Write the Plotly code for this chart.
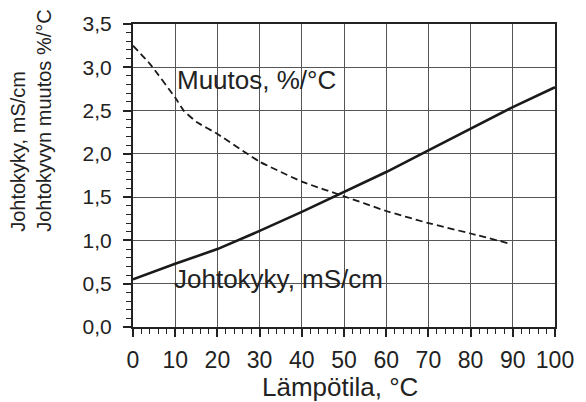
import plotly.graph_objects as go

# Data
temps = [0, 10, 20, 30, 40, 50, 60, 70, 80, 90, 100]
conductivity = [0.55, 0.73, 0.90, 1.11, 1.33, 1.56, 1.79, 2.04, 2.29, 2.54, 2.77]

change_temps = [0, 4, 10, 12, 15, 20, 30, 40, 50, 60, 70, 80, 89.5]
change = [3.25, 3.04, 2.65, 2.50, 2.37, 2.23, 1.91, 1.68, 1.51, 1.34, 1.20, 1.08, 0.96]

x_ticks = [0, 10, 20, 30, 40, 50, 60, 70, 80, 90, 100]
y_ticks = [0.0, 0.5, 1.0, 1.5, 2.0, 2.5, 3.0, 3.5]
y_tick_labels = ["0,0", "0,5", "1,0", "1,5", "2,0", "2,5", "3,0", "3,5"]

FONT = "Liberation Sans, Arial, Helvetica, sans-serif"
TXT = "#222222"

fig = go.Figure()
fig.add_trace(go.Scatter(x=temps, y=conductivity, mode="lines",
                         line=dict(color="#1a1a1a", width=2.6), showlegend=False))
fig.add_trace(go.Scatter(x=change_temps, y=change, mode="lines",
                         line=dict(color="#1a1a1a", width=1.8, dash="7px,4px", shape="spline", smoothing=0.4),
                         showlegend=False))

fig.add_annotation(x=9.9, y=2.85, xref="x", yref="y", text="Muutos, %/°C", showarrow=False,
                   xanchor="left", yanchor="middle", font=dict(family=FONT, size=26, color=TXT))
fig.add_annotation(x=9.2, y=0.56, xref="x", yref="y", text="Johtokyky, mS/cm", showarrow=False,
                   xanchor="left", yanchor="middle", font=dict(family=FONT, size=26, color=TXT))

# axis titles
fig.add_annotation(x=0.5 - 4 / 424, y=-0.197, xref="paper", yref="paper", text="Lämpötila, °C",
                   showarrow=False, xanchor="center", yanchor="middle",
                   font=dict(family=FONT, size=26, color=TXT))
fig.add_annotation(x=(31 - 133) / 424, y=(327 - 120) / 303.5, xref="paper", yref="paper",
                   text="Johtokyky, mS/cm<br>Johtokyvyn muutos %/°C", textangle=-90, align="left",
                   showarrow=False, xanchor="center", yanchor="middle",
                   font=dict(family=FONT, size=20, color=TXT))

fig.update_xaxes(range=[0, 100], tickvals=x_ticks, ticks="outside", ticklen=8, tickwidth=1.5,
                 tickcolor="#222", showline=True, linecolor="#222", linewidth=2, mirror=True,
                 showgrid=True, gridcolor="#555", gridwidth=1, zeroline=False,
                 tickfont=dict(family=FONT, size=23, color=TXT), ticklabelstandoff=3,
                 minor=dict(dtick=2, ticks="outside", ticklen=5, tickcolor="#222", tickwidth=1.2, showgrid=False))
fig.update_yaxes(range=[0, 3.5], tickvals=y_ticks, ticktext=y_tick_labels, ticks="outside", ticklen=8,
                 tickwidth=1.5, tickcolor="#222", showline=True, linecolor="#222", linewidth=2, mirror=True,
                 showgrid=True, gridcolor="#555", gridwidth=1, zeroline=False,
                 tickfont=dict(family=FONT, size=21, color=TXT), ticklabelstandoff=7,
                 minor=dict(dtick=0.1, ticks="outside", ticklen=5, tickcolor="#222", tickwidth=1.2, showgrid=False))

fig.update_layout(width=586, height=402, margin=dict(l=133, r=29, t=23.5, b=75),
                  paper_bgcolor="white", plot_bgcolor="white", showlegend=False)

fig.write_html("out.html")
